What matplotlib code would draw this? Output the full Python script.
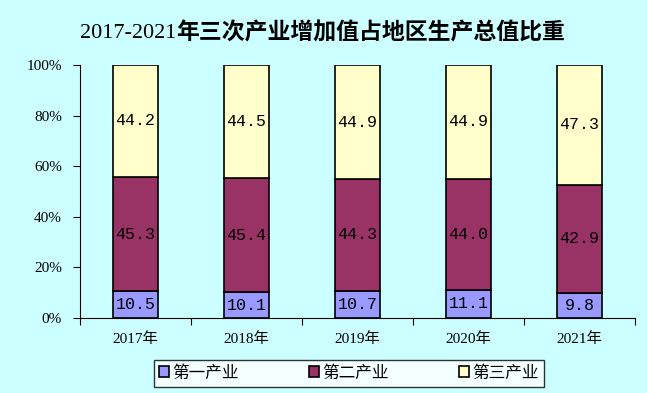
import numpy as np
import matplotlib.pyplot as plt

plt.rcParams['font.family'] = ['Liberation Serif', 'Noto Sans CJK SC']

years = ['2017年', '2018年', '2019年', '2020年', '2021年']
primary = [10.5, 10.1, 10.7, 11.1, 9.8]
secondary = [45.3, 45.4, 44.3, 44.0, 42.9]
tertiary = [44.2, 44.5, 44.9, 44.9, 47.3]
series_names = ['第一产业', '第二产业', '第三产业']
colors = ['#9999FF', '#993366', '#FFFFCC']

bg = '#CCFFFF'
fig = plt.figure(figsize=(6.47, 3.93), dpi=100, facecolor=bg)
ax = fig.add_axes([80 / 647, 1 - 318 / 393, 555 / 647, 253 / 393])
ax.set_facecolor(bg)

x = np.arange(len(years))
bottom = np.zeros(len(years))
for vals, name, c in zip([primary, secondary, tertiary], series_names, colors):
    ax.bar(x, vals, 0.4, bottom=bottom, color=c, edgecolor='black',
           linewidth=1.2, label=name)
    for xi, b, v in zip(x, bottom, vals):
        ax.text(xi, b + v / 2, f'{v:.1f}', ha='center', va='center',
                fontsize=12, family=['Liberation Mono', 'DejaVu Sans Mono'])
    bottom += np.array(vals)

ax.set_xlim(-0.5, len(years) - 0.5)
ax.set_ylim(0, 100)
ax.set_yticks(np.arange(0, 101, 20))
ax.set_yticklabels([f'{v}%' for v in range(0, 101, 20)], fontsize=11)
ax.set_xticks(np.arange(-0.5, len(years), 1))
ax.set_xticklabels([])
ax.set_xticks(x, minor=True)
ax.set_xticklabels(years, minor=True, fontsize=11)
ax.tick_params(axis='x', which='minor', length=0, pad=10)
ax.tick_params(axis='x', which='major', length=5, direction='out')
ax.tick_params(axis='y', length=5, direction='out', pad=8)
for s in ['top', 'right']:
    ax.spines[s].set_visible(False)

# title: plain digits, bold Chinese characters
t1 = fig.text(80 / 647, 1 - 33 / 393, '2017-2021', ha='left', va='center',
              fontsize=16)
fig.canvas.draw()
bb = t1.get_window_extent()
fig.text(bb.x1 / fig.bbox.width, 1 - 33 / 393, '年三次产业增加值占地区生产总值比重',
         ha='left', va='center', fontsize=16.5, fontweight='bold',
         family=['Noto Sans CJK SC'])

leg = fig.legend(loc='center', bbox_to_anchor=(349 / 647, 1 - 373 / 393),
                 ncol=3, fontsize=12, frameon=True, fancybox=False,
                 edgecolor='black', handlelength=0.6, handleheight=0.6,
                 columnspacing=4.2, handletextpad=0.2, borderpad=0.3,
                 borderaxespad=0)
leg.get_frame().set_linewidth(1.0)
leg.get_frame().set_facecolor('white')
for t in leg.get_texts():
    t.set_family(['Noto Sans CJK SC'])

fig.savefig('out.png', dpi=100, facecolor=bg)
